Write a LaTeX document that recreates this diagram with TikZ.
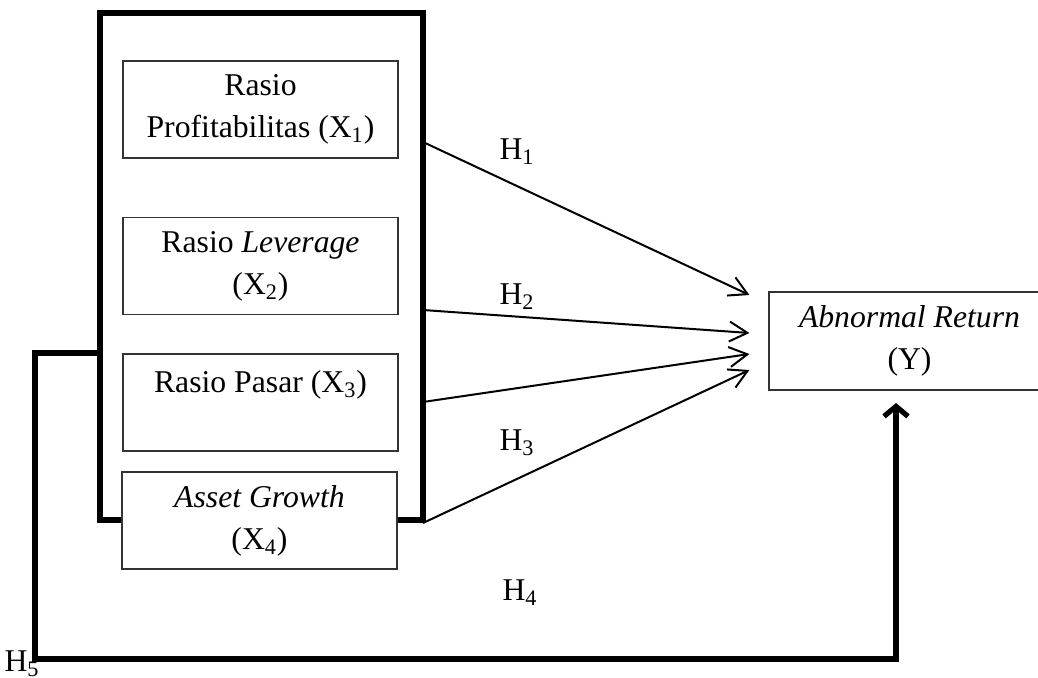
\documentclass[tikz,border=0pt]{standalone}
\usepackage{fontspec}
\setmainfont{Liberation Serif}
\usetikzlibrary{arrows.meta,calc}

\tikzset{
    varbox/.style={draw=black!80, line width=0.6pt, fill=white, align=center, inner sep=0pt,
        minimum width=137.5pt, minimum height=48.5pt, font=\fontsize{15.85}{21}\selectfont},
    hlabel/.style={inner sep=0pt, font=\fontsize{15.85}{19}\selectfont},
    thinarrow/.style={line width=1pt, -{Straight Barb[length=9pt,width=10pt]}},
    thickline/.style={line width=2.6pt},
}

\begin{document}
\begin{tikzpicture}[x=0.5pt,y=-0.5pt]

    \useasboundingbox (0,0) rectangle (1038,678);	%size of the page, in pixels

    %GROUP FRAME (its bottom side runs behind X4)
    \node[draw, thickline, minimum width=161.5pt, minimum height=253.5pt, inner sep=0pt] (grp) at (261.5,266.5) {};

    %INDEPENDENT VARIABLES
    \node[varbox] (x1) at (260.5,109.5) {Rasio\\Profitabilitas (X\textsubscript{1})};
    \node[varbox] (x2) at (260.5,266) {Rasio \textit{Leverage}\\(X\textsubscript{2})};
    \node[varbox] (x3) at (260.5,402.5) {Rasio Pasar (X\textsubscript{3})\\\mbox{}};
    \node[varbox] (x4) at (259.5,520.5) {\textit{Asset Growth}\\(X\textsubscript{4})};

    %DEPENDENT VARIABLE (runs off the right edge of the page)
    \node[varbox, minimum width=140.5pt, minimum height=49pt] (ybox) at (909.5,341) {\textit{Abnormal Return}\\(Y)};

    %PARTIAL EFFECTS: start on the frame, end just left of Y
    \foreach \i/\ys/\ye in {1/142/-46, 2/310/-8, 3/402/13, 4/523/29}{
        \coordinate (s\i) at (423,\ys);
        \coordinate (e\i) at ($(ybox.west)+(-19,\ye)$);
        \draw[thinarrow] (s\i) -- (e\i);
    } %end of arrow loop

    %SIMULTANEOUS EFFECT
    \coordinate (f0) at (grp.west |- 0,353);
    \coordinate (f1) at (35,353);
    \coordinate (f2) at (35,659);
    \coordinate (f4) at (896,403);		% tip, just below Y
    \draw[thickline, -{Straight Barb[length=5pt,width=12pt]}]
        (f0) -- (f1) -- (f2) -- (f2 -| f4) -- (f4);

    %HYPOTHESIS LABELS
    \node[hlabel] (h1) at (517,152) {H\textsubscript{1}};
    \node[hlabel] (h2) at (517,297) {H\textsubscript{2}};
    \node[hlabel] (h3) at (517,443) {H\textsubscript{3}};
    \node[hlabel] (h4) at (520,593) {H\textsubscript{4}};
    \node[hlabel] (h5) at (22,664) {H\textsubscript{5}};

\end{tikzpicture}
\end{document}
